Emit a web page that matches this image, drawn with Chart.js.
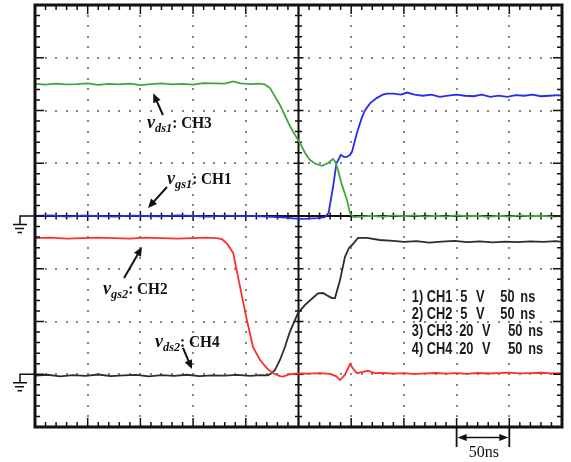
<!DOCTYPE html>
<html>
<head>
<meta charset="utf-8">
<script src="https://cdn.jsdelivr.net/npm/chart.js@4/dist/chart.umd.min.js"></script>
<style>
  html, body { margin: 0; padding: 0; background: #ffffff; }
  canvas { display: block; }
</style>
</head>
<body>
<canvas id="scope" width="571" height="462" style="width:571px;height:462px"></canvas>
<script>
// Horizontal setting: 50 ns per division, 10 divisions, trigger at centre
const timePerDiv = 50;
const channelNames = ['CH1', 'CH2', 'CH3', 'CH4'];
const voltsPerDiv = [5, 5, 20, 20];
const groundDiv = [0, -3, 0, -3];   // ground reference marker of each channel, in divisions

// CH1: v_gs1 (blue), time in ns, value in V
const ch1Time = [
  -250, -235, -220, -205, -190, -175, -160, -145, -130, -115,
  -100, -85, -70, -55, -40, -25, -12, -5, 2, 10,
  18, 25, 28.5, 32.7, 36, 40.3, 43, 46, 49, 50.8,
  55.5, 60, 63, 68, 74.5, 80, 84, 90, 97, 103,
  110, 118, 126, 134, 142, 150, 158, 166, 174, 182,
  190, 198, 206, 214, 222, 230, 238, 246, 250
];
const ch1Volts = [
  0, 0.05, -0.05, 0.03, 0, -0.06, 0.04, 0, -0.04, 0.05,
  0, -0.05, 0.03, -0.02, 0, -0.08, -0.15, -0.22, -0.28, -0.25,
  -0.2, -0.12, 0.3, 2.7, 5.0, 5.8, 5.6, 5.6, 5.8, 6.1,
  7.9, 9.3, 10.0, 10.7, 11.2, 11.5, 11.6, 11.6, 11.5, 11.7,
  11.5, 11.4, 11.5, 11.3, 11.4, 11.5, 11.4, 11.35, 11.5, 11.3,
  11.4, 11.3, 11.45, 11.4, 11.5, 11.35, 11.4, 11.45, 11.4
];

// CH2: v_gs2 (red)
const ch2Time = [
  -250, -235, -220, -205, -190, -175, -160, -145, -130, -115,
  -100, -88, -78, -72.6, -68, -62, -55.5, -48.9, -43.2, -36.5,
  -29.9, -24.2, -17.6, -14.7, -8.1, 0, 10, 20, 30, 36,
  39.4, 44, 48.9, 52, 55.5, 60, 66, 72, 80, 90,
  100, 110, 120, 130, 140, 150, 160, 170, 180, 190,
  200, 210, 220, 230, 240, 250
];
const ch2Volts = [
  12.9, 12.95, 12.85, 12.9, 12.95, 12.9, 12.85, 12.95, 12.9, 12.85,
  12.9, 12.95, 12.9, 12.8, 12.4, 11.5, 8.3, 5.1, 2.6, 1.35,
  0.56, 0.09, -0.17, -0.23, 0, 0.08, 0.05, 0.1, 0.03, -0.2,
  -0.55, -0.07, 0.97, 0.5, 0.1, 0.2, 0.33, 0.1, 0.12, 0.05,
  0.1, 0.02, 0.08, 0.12, 0.05, 0.1, 0.03, 0.12, 0.07, 0.1,
  0.15, 0.08, 0.1, 0.14, 0.08, 0.1
];

// CH3: v_ds1 (green)
const ch3Time = [
  -250, -240, -230, -220, -210, -200, -190, -180, -170, -160,
  -150, -140, -130, -120, -110, -100, -90, -80, -70, -62,
  -55, -45, -38, -32, -27, -24.2, -17.6, -10.9, -8.1, -3,
  1.4, 6.2, 10.9, 16, 22.3, 28, 32.7, 35, 37.5, 41.2,
  46, 48.9, 52, 60, 70, 80, 90, 100, 110, 120,
  130, 140, 150, 160, 170, 180, 190, 200, 210, 220,
  230, 240, 250
];
const ch3Volts = [
  50.1, 49.8, 50.2, 49.9, 50.0, 50.3, 49.7, 50.1, 49.9, 50.2,
  49.6, 50.0, 50.3, 49.9, 50.1, 49.8, 50.4, 50.3, 50.2, 51.0,
  50.3, 50.0, 50.2, 49.9, 48.5, 46.6, 42.1, 36.4, 34.1, 30.5,
  27.7, 23.9, 21.2, 19.8, 19.0, 20.1, 21.6, 20.5, 17.4, 11.8,
  6.1, 1.1, -0.4, -0.2, 0.1, -0.3, 0.2, -0.1, 0.2, -0.2,
  0.1, -0.2, 0.2, -0.1, 0.1, -0.3, 0.1, -0.2, 0.2, -0.1,
  0.1, -0.2, 0
];

// CH4: v_ds2 (black)
const ch4Time = [
  -250, -238, -226, -214, -202, -190, -178, -166, -154, -142,
  -130, -118, -106, -94, -82, -70, -58, -46, -36, -29,
  -26, -22.3, -17.6, -12.8, -8.1, -3.3, -0.5, 6.2, 13.8, 18.5,
  23.2, 28, 31.8, 34.6, 39.4, 44.1, 47.9, 50.8, 56.5, 65,
  77, 90, 100, 112, 124, 136, 148, 160, 172, 184,
  196, 208, 220, 232, 244, 250
];
const ch4Volts = [
  -0.5, -0.2, -0.8, -0.3, -0.6, -0.1, -0.7, -0.4, -0.2, -0.8,
  -0.3, -0.6, -0.2, -0.7, -0.4, -0.5, -0.2, -0.6, -0.3, -0.4,
  0.3, 1.6, 5.4, 10.4, 16.2, 20.6, 23.2, 26.3, 29.0, 30.7,
  30.8, 29.7, 28.9, 28.9, 35.7, 44.5, 47.9, 49.0, 51.7, 51.7,
  50.9, 50.6, 50.2, 50.5, 49.9, 50.3, 50.6, 50.1, 50.4, 50.0,
  50.3, 50.1, 50.4, 50.2, 50.5, 50.2
];

// convert a channel's volts into screen divisions using its V/div and ground offset
function toDivisions(times, volts, ch) {
  return times.map((t, i) => ({ x: t, y: volts[i] / voltsPerDiv[ch] + groundDiv[ch] }));
}

function trace(label, times, volts, ch, color) {
  return {
    label, data: toDivisions(times, volts, ch), showLine: true,
    borderColor: color, borderWidth: 1.8, pointRadius: 0, fill: false, tension: 0
  };
}

const SERIF = '"Liberation Serif", "Times New Roman", serif';
const SANS = '"Liberation Sans", Arial, sans-serif';

function scaledText(ctx, text, px, py, font, sx, align) {
  ctx.save();
  ctx.font = font;
  const w = ctx.measureText(text).width * sx;
  const ox = align === 'center' ? -w / 2 : 0;
  ctx.translate(px + ox, py);
  ctx.scale(sx, 1);
  ctx.fillText(text, 0, 0);
  ctx.restore();
  return w;
}

function arrow(ctx, x1, y1, x2, y2, head, width) {
  const ang = Math.atan2(y2 - y1, x2 - x1);
  ctx.beginPath();
  ctx.moveTo(x1, y1);
  ctx.lineTo(x2 - Math.cos(ang) * head * 0.7, y2 - Math.sin(ang) * head * 0.7);
  ctx.stroke();
  ctx.beginPath();
  ctx.moveTo(x2, y2);
  ctx.lineTo(x2 - head * Math.cos(ang) + width * Math.sin(ang), y2 - head * Math.sin(ang) - width * Math.cos(ang));
  ctx.lineTo(x2 - head * Math.cos(ang) - width * Math.sin(ang), y2 - head * Math.sin(ang) + width * Math.cos(ang));
  ctx.closePath();
  ctx.fill();
}

function signalLabel(ctx, px, py, sub, ch) {
  let cx = px;
  cx += scaledText(ctx, 'v', cx, py, 'italic bold 19px ' + SERIF, 0.95);
  cx += scaledText(ctx, sub, cx, py + 4, 'italic bold 13px ' + SERIF, 0.95);
  scaledText(ctx, ': ' + ch, cx, py, 'bold 17px ' + SERIF, 0.9);
}

function groundMark(ctx, left, gy) {
  ctx.beginPath();
  ctx.moveTo(left, gy); ctx.lineTo(left - 15, gy); ctx.lineTo(left - 15, gy + 8);
  ctx.moveTo(left - 22, gy + 8.5); ctx.lineTo(left - 8, gy + 8.5);
  ctx.moveTo(left - 20, gy + 12.5); ctx.lineTo(left - 11, gy + 12.5);
  ctx.moveTo(left - 17.5, gy + 16.5); ctx.lineTo(left - 13, gy + 16.5);
  ctx.stroke();
}

const scopeScreen = {
  id: 'scopeScreen',
  beforeDatasetsDraw(chart) {
    const { ctx, chartArea: a, scales: { x, y } } = chart;
    ctx.save();
    // dotted graticule: one dot per minor subdivision along each major line
    ctx.fillStyle = '#858585';
    for (let i = 1; i < 10; i++) {
      if (i === 5) continue;
      const gx = Math.round(x.getPixelForValue(x.min + i * timePerDiv));
      for (let j = 1; j < 40; j++) {
        const gy = Math.round(y.getPixelForValue(y.min + j * 0.2));
        ctx.fillRect(gx - 1, gy - 1, 2, 2);
      }
    }
    for (let j = 1; j < 8; j++) {
      if (j === 4) continue;
      const gy = Math.round(y.getPixelForValue(y.min + j));
      for (let i = 1; i < 50; i++) {
        const gx = Math.round(x.getPixelForValue(x.min + i * timePerDiv / 5));
        ctx.fillRect(gx - 1, gy - 1, 2, 2);
      }
    }
    // centre axes with cross ticks
    const cx = x.getPixelForValue(0), cy = y.getPixelForValue(0);
    ctx.strokeStyle = '#111';
    ctx.lineWidth = 2;
    ctx.beginPath();
    ctx.moveTo(a.left, cy); ctx.lineTo(a.right, cy);
    ctx.moveTo(cx, a.top); ctx.lineTo(cx, a.bottom);
    ctx.stroke();
    ctx.lineWidth = 1.5;
    ctx.beginPath();
    for (let i = 1; i < 50; i++) {
      const tx = x.getPixelForValue(x.min + i * timePerDiv / 5);
      const len = i % 5 === 0 ? 5 : 3.5;
      ctx.moveTo(tx, cy - len); ctx.lineTo(tx, cy + len);
    }
    for (let j = 1; j < 40; j++) {
      const ty = y.getPixelForValue(y.min + j * 0.2);
      const len = j % 5 === 0 ? 5 : 3.5;
      ctx.moveTo(cx - len, ty); ctx.lineTo(cx + len, ty);
    }
    ctx.stroke();
    ctx.restore();
  },
  afterDraw(chart) {
    const { ctx, chartArea: a, scales: { x, y } } = chart;
    ctx.save();
    ctx.strokeStyle = '#111';
    ctx.fillStyle = '#111';
    // border ticks
    ctx.lineWidth = 1.5;
    ctx.beginPath();
    for (let i = 1; i < 50; i++) {
      const tx = x.getPixelForValue(x.min + i * timePerDiv / 5);
      const len = i % 5 === 0 ? 9 : 5;
      ctx.moveTo(tx, a.top); ctx.lineTo(tx, a.top + len);
      ctx.moveTo(tx, a.bottom); ctx.lineTo(tx, a.bottom - len);
    }
    for (let j = 1; j < 40; j++) {
      const ty = y.getPixelForValue(y.min + j * 0.2);
      const len = j % 5 === 0 ? 9 : 5;
      ctx.moveTo(a.left, ty); ctx.lineTo(a.left + len, ty);
      ctx.moveTo(a.right, ty); ctx.lineTo(a.right - len, ty);
    }
    ctx.stroke();
    // outer frame
    ctx.lineWidth = 3;
    ctx.strokeRect(a.left, a.top, a.right - a.left, a.bottom - a.top);

    // ground reference markers
    ctx.lineWidth = 1.5;
    groundMark(ctx, a.left, y.getPixelForValue(groundDiv[0]));
    groundMark(ctx, a.left, y.getPixelForValue(groundDiv[1]));

    // signal names with pointer arrows
    ctx.lineWidth = 2;
    const P = (t, d) => [x.getPixelForValue(t), y.getPixelForValue(d)];
    let p, q;
    p = P(-143.7, 1.668); signalLabel(ctx, p[0], p[1], 'ds1', channelNames[2]);
    p = P(-128.6, 1.915); q = P(-137.8, 2.326); arrow(ctx, p[0], p[1], q[0], q[1], 9, 4);
    p = P(-124.8, 0.607); signalLabel(ctx, p[0], p[1], 'gs1', channelNames[0]);
    p = P(-124.8, 0.55); q = P(-142.8, 0.152); arrow(ctx, p[0], p[1], q[0], q[1], 9, 4);
    p = P(-185.5, -1.479); signalLabel(ctx, p[0], p[1], 'gs2', channelNames[1]);
    p = P(-165.5, -1.175); q = P(-148.5, -0.588); arrow(ctx, p[0], p[1], q[0], q[1], 9, 4);
    p = P(-136.2, -2.483); signalLabel(ctx, p[0], p[1], 'ds2', channelNames[3]);
    p = P(-109.6, -2.502); q = P(-101.1, -2.9); arrow(ctx, p[0], p[1], q[0], q[1], 9, 4);

    // channel settings table
    ctx.fillStyle = '#1a1a1a';
    const lf = 'bold 16px ' + SANS;
    const sx = 0.8;
    const base = y.getPixelForValue(-1.63);
    for (let k = 0; k < 4; k++) {
      const by = base + k * 17.2;
      const wide = voltsPerDiv[k] >= 10;
      scaledText(ctx, (k + 1) + ') ' + channelNames[k], x.getPixelForValue(107.5), by, lf, sx);
      scaledText(ctx, String(voltsPerDiv[k]), x.getPixelForValue(wide ? 152.5 : 153.5), by, lf, sx);
      scaledText(ctx, 'V', x.getPixelForValue(wide ? 174 : 168.5), by, lf, sx);
      scaledText(ctx, String(timePerDiv), x.getPixelForValue(wide ? 199 : 191.5), by, lf, sx);
      scaledText(ctx, 'ns', x.getPixelForValue(wide ? 218 : 210.5), by, lf, sx);
    }

    // time scale bar spanning one division
    ctx.fillStyle = '#111';
    const x1 = x.getPixelForValue(3 * timePerDiv), x2 = x.getPixelForValue(4 * timePerDiv);
    const yb = a.bottom + 10.5;
    ctx.lineWidth = 1.8;
    ctx.beginPath();
    ctx.moveTo(x1, a.bottom + 1); ctx.lineTo(x1, a.bottom + 20);
    ctx.moveTo(x2, a.bottom + 1); ctx.lineTo(x2, a.bottom + 20);
    ctx.stroke();
    ctx.lineWidth = 1.5;
    arrow(ctx, (x1 + x2) / 2, yb, x1 + 1, yb, 9, 3.5);
    arrow(ctx, (x1 + x2) / 2, yb, x2 - 1, yb, 9, 3.5);
    scaledText(ctx, timePerDiv + 'ns', (x1 + x2) / 2 + 1, a.bottom + 30, '16px ' + SERIF, 1, 'center');
    ctx.restore();
  }
};

new Chart(document.getElementById('scope'), {
  type: 'scatter',
  data: {
    datasets: [
      trace('CH3', ch3Time, ch3Volts, 2, 'rgb(64,166,64)'),
      trace('CH1', ch1Time, ch1Volts, 0, 'rgb(40,44,235)'),
      trace('CH2', ch2Time, ch2Volts, 1, 'rgb(250,48,48)'),
      trace('CH4', ch4Time, ch4Volts, 3, 'rgb(45,45,45)')
    ]
  },
  options: {
    responsive: false,
    animation: false,
    devicePixelRatio: 1,
    layout: { padding: { left: 35, top: 5, right: 9, bottom: 35 } },
    scales: {
      x: { type: 'linear', min: -5 * timePerDiv, max: 5 * timePerDiv, display: false },
      y: { type: 'linear', min: -4, max: 4, display: false }
    },
    plugins: { legend: { display: false }, tooltip: { enabled: false } }
  },
  plugins: [scopeScreen]
});
</script>
</body>
</html>
